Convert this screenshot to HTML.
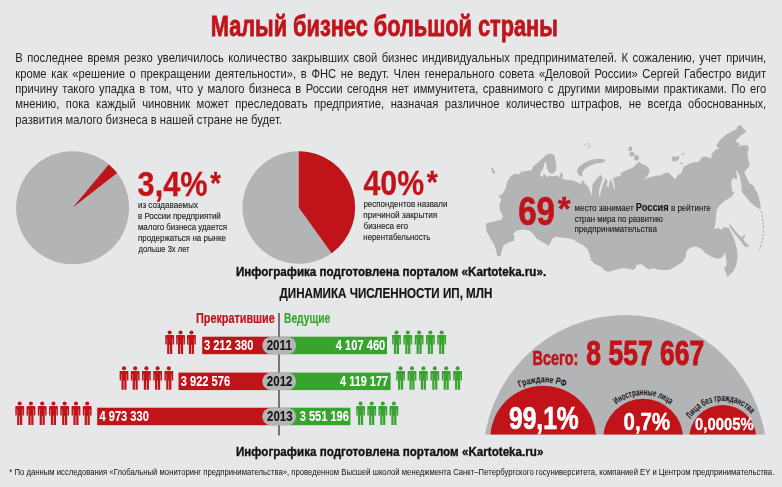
<!DOCTYPE html><html lang="ru"><head><meta charset="utf-8"><title>Малый бизнес большой страны</title>
<style>html,body{margin:0;padding:0}body{width:782px;height:487px;overflow:hidden;background:#e6e7e8;position:relative;font-family:"Liberation Sans",sans-serif}.w{position:absolute;left:0;top:0;width:782px;height:487px;overflow:hidden;will-change:transform}.t{position:absolute;left:0;white-space:nowrap;transform-origin:0 0;line-height:1}.pl{position:absolute;left:0;white-space:nowrap;transform-origin:0 0;line-height:1;font-size:54.4px;color:#1f1f1e;text-align:justify;text-align-last:justify;transform:translate(15.30px,0) scale(0.20600,0.25000);width:3645.15px}svg{position:absolute;left:0;top:0}</style></head><body>
<svg width="782" height="487" viewBox="0 0 782 487">
<g fill="#b3b4b6">
<path d="M506.9,182 L510.7,176.2 L514.5,173.7 L519.6,174.3 L520.9,171.7 L526,171.1 L531.2,170.5 L533.1,166.6 L537.5,162.8 L542.7,158.3 L545.9,155.1 L549.7,153.6 L554.2,155.1 L555.4,160.2 L556.5,166.6 L555.4,171.1 L552.9,173.7 L549.3,173 L547.3,169 L546,162.6 L544.8,161.8 L543.3,168.5 L540.7,172 L540,175.8 L542.5,177.1 L543.9,173.7 L545.9,174.9 L546.5,177.5 L549.1,175.6 L552.9,176.2 L556.7,175.6 L559.3,177.5 L561.2,171.7 L563.1,175.6 L561.8,178.8 L567,180 L572.1,180.2 L577.7,182.4 L580.9,184.3 L582.8,179.2 L584.1,182.4 L587.9,186.3 L590.3,192 L591.2,196.5 L591.9,192 L592.4,185 L595.6,179.9 L600.7,174.8 L602.6,177.3 L602,181.2 L600,186.3 L598.8,192 L599.6,198 L600.7,192 L602.6,185 L604.5,180.5 L605.8,178 L607.7,181.2 L606.4,185 L608.4,187.5 L609.6,181.2 L610.9,179.2 L612.8,183.7 L614.1,190.1 L614.8,186.3 L612.8,178.6 L616,176.7 L620.5,176 L621.2,172.8 L626.3,170.3 L632.7,167.7 L636.5,163.9 L639.1,161.7 L641.6,163.9 L645.4,165.2 L648.6,167.7 L649.9,170.9 L648,174.8 L645.4,178 L643.5,180.5 L646.7,178 L651.8,176.7 L657,175.4 L661.5,175.2 L663.5,173.2 L668.6,172.6 L671.7,175.7 L675.6,179.6 L677.2,175.7 L681.8,172.6 L683.4,167.1 L688.9,164 L692.8,162.4 L699,161.7 L701.3,157.8 L705.2,156.2 L711.5,158.5 L711.5,153.9 L715.4,150 L719.3,148.4 L716.2,146.1 L720.1,139.8 L725.5,135.1 L733.3,130.5 L736.4,129.7 L737.2,126.6 L741.1,125 L742.7,128.1 L746.6,131.2 L742.7,134.4 L739.6,135.9 L738.8,138.3 L736.4,139 L736.4,142.2 L740.3,143.7 L738,146.8 L742.7,145.3 L747.4,145.3 L748.9,148.4 L747.4,152.3 L748.1,158.5 L749.7,165.6 L746.6,169.5 L744.2,172.6 L746.6,177.3 L747.4,179.6 L749.7,183.5 L753.6,185.8 L755.2,189.7 L757.5,192.9 L759.1,198.3 L760.6,205.4 L760.6,209.5 L755.5,206.4 L750.3,202.3 L745.2,196.2 L741.9,192.1 L741.1,182.7 L739.6,175.7 L737.2,171 L735.7,170.2 L737.2,176.5 L736.4,179.6 L733.3,178 L731,181.9 L731.8,187.4 L732.5,192.1 L734.9,191.3 L731.8,196.8 L725.7,200.3 L719.5,205.4 L716.5,210.5 L715.9,218.7 L715,225.9 L713.8,229 L718.5,228 L721.6,230 L723.7,227 L728.8,228 L731.9,234.1 L734.9,241.3 L737,249.5 L737.6,257.8 L736,266 L732.9,272.1 L729.8,274.2 L727.8,277.3 L725.7,272.1 L724.1,269.1 L726.7,264.9 L726.1,257.8 L725.3,252.6 L721.6,257.8 L717.5,258.8 L711.3,256.7 L706.2,253.7 L701.1,248.5 L695.9,246.5 L690.8,247.5 L686.7,250.6 L685.7,256.7 L682.6,261.9 L676.4,266 L669.2,270.1 L659.8,269.9 L653.1,268.2 L648.9,269.4 L645.6,267.4 L641.5,264.1 L636.5,264.9 L635.6,268.2 L633.2,269.9 L628.2,268.5 L621.5,268.2 L614.9,269.9 L608.2,271.9 L604.1,269.9 L600.7,266.6 L594.9,264.1 L590.8,259.9 L590,255.4 L587.8,249.6 L583.5,245.3 L577.8,242.4 L573.5,239.6 L566.3,238.1 L560.5,237.4 L554.8,236.7 L551.9,239.6 L550.5,243.2 L548.3,246 L544.7,243.2 L540.4,241 L536.1,238.1 L533.2,233.8 L528.9,230.2 L523.1,229.5 L517.4,230.2 L513.1,233.8 L514.5,236.7 L513.8,241 L508.8,242.4 L503.7,245.3 L501.6,251.1 L500.8,256.1 L497.3,256.1 L495.8,249.6 L494.4,245.3 L490.1,238.1 L486.5,230.9 L485.8,223.8 L490.1,222.3 L495.8,220.9 L501.6,219.4 L503,216.6 L500.1,210.8 L499.4,205.1 L501.3,199.6 L498.5,196 L502.4,194.1 L505.6,188.4Z M576.8,170.9 L578.8,166.9 L584,162.9 L589.2,160.4 L595.6,158.9 L603.2,158.9 L605.4,160.7 L603.2,162.6 L595.8,163.5 L589.6,165.8 L584.8,169 L582.2,172.6 L582,176.4 L579,175.2Z M728.6,223 L731.7,226.2 L736.6,232.4 L741.6,237.6 L744.6,234.8 L745.6,235.6 L743.2,239.6 L746.2,243.6 L749.3,245.4 L748.9,246.5 L746.6,246.2 L746.4,248.3 L743,244.4 L739.3,239.5 L734.3,233.3 L730.2,228Z"/>
<path d="M490.9,168.2 L492.6,167.9 L495.3,172.3 L494.6,173.7 L492.8,173.2Z"/>
<ellipse cx="630.4" cy="148.9" rx="2" ry="2.4"/><ellipse cx="632" cy="154.2" rx="2.6" ry="2.3"/><ellipse cx="636.5" cy="157.8" rx="2.5" ry="2.8"/>
<path d="M671.7,158 L674,155.8 L676,157.6 L678.5,155.5 L679.5,158 L677.5,160.5 L674.5,161.7 L672.2,160.5Z"/><path d="M681,154 L684.8,152.7 L685,153.8 L681.6,155Z"/><path d="M680.3,162.6 L682.4,162.2 L682.8,163.8 L680.8,164.2Z"/>
<g opacity="0.45"><circle cx="585" cy="145" r="1.3"/><circle cx="588.5" cy="144" r="1.4"/><circle cx="588" cy="147.5" r="1.2"/><circle cx="590.3" cy="146" r="1"/></g>
<path d="M761.4,211 Q764.5,228 762.8,238 Q761.6,245 759.4,250" fill="none" stroke="#b3b4b6" stroke-width="1.3" stroke-dasharray="2.2 1.6"/>
</g>
<circle cx="72.6" cy="207.8" r="56.5" fill="#b3b4b6"/><path d="M72.6,207.8 L108.77,164.39 A56.5,56.5 0 0 1 117.12,173.02 Z" fill="#c0141a"/>
<circle cx="298.8" cy="207.5" r="56.3" fill="#b3b4b6"/><path d="M298.8,207.5 L298.80,151.20 A56.3,56.3 0 0 1 331.65,253.22 Z" fill="#c0141a"/>
<rect x="278.25" y="313" width="1.5" height="122.5" fill="#505050"/>
<rect x="202.2" y="336.7" width="76.7" height="17.5" fill="#c0141a"/>
<rect x="278.9" y="336.7" width="108.1" height="17.5" fill="#38a42f"/>
<rect x="262.3" y="336.7" width="33.8" height="17.5" rx="8.75" fill="#b5b5b7"/>
<rect x="178.5" y="372.6" width="100.4" height="17.5" fill="#c0141a"/>
<rect x="278.9" y="372.6" width="111.7" height="17.5" fill="#38a42f"/>
<rect x="262.3" y="372.6" width="33.8" height="17.5" rx="8.75" fill="#b5b5b7"/>
<rect x="97.2" y="407.7" width="181.7" height="17.5" fill="#c0141a"/>
<rect x="278.9" y="407.7" width="71.5" height="17.5" fill="#38a42f"/>
<rect x="262.3" y="407.7" width="33.8" height="17.5" rx="8.75" fill="#b5b5b7"/>
<g transform="translate(165.30,330.40)" fill="#c0141a"><circle cx="4.4" cy="2.05" r="2.05"/><path d="M0.7,4.7h7.4q0.7,0 0.7,0.7v8.8h-1.5v-6.3h-0.35v15.6h-2.25v-9.2h-0.6v9.2h-2.25v-15.6h-0.35v6.3h-1.5v-8.8q0,-0.7 0.7,-0.7z"/></g>
<g transform="translate(176.15,330.40)" fill="#c0141a"><circle cx="4.4" cy="2.05" r="2.05"/><path d="M0.7,4.7h7.4q0.7,0 0.7,0.7v8.8h-1.5v-6.3h-0.35v15.6h-2.25v-9.2h-0.6v9.2h-2.25v-15.6h-0.35v6.3h-1.5v-8.8q0,-0.7 0.7,-0.7z"/></g>
<g transform="translate(187.00,330.40)" fill="#c0141a"><circle cx="4.4" cy="2.05" r="2.05"/><path d="M0.7,4.7h7.4q0.7,0 0.7,0.7v8.8h-1.5v-6.3h-0.35v15.6h-2.25v-9.2h-0.6v9.2h-2.25v-15.6h-0.35v6.3h-1.5v-8.8q0,-0.7 0.7,-0.7z"/></g>
<g transform="translate(392.10,330.40)" fill="#38a42f"><circle cx="4.4" cy="2.05" r="2.05"/><path d="M0.7,4.7h7.4q0.7,0 0.7,0.7v8.8h-1.5v-6.3h-0.35v15.6h-2.25v-9.2h-0.6v9.2h-2.25v-15.6h-0.35v6.3h-1.5v-8.8q0,-0.7 0.7,-0.7z"/></g>
<g transform="translate(403.40,330.40)" fill="#38a42f"><circle cx="4.4" cy="2.05" r="2.05"/><path d="M0.7,4.7h7.4q0.7,0 0.7,0.7v8.8h-1.5v-6.3h-0.35v15.6h-2.25v-9.2h-0.6v9.2h-2.25v-15.6h-0.35v6.3h-1.5v-8.8q0,-0.7 0.7,-0.7z"/></g>
<g transform="translate(414.70,330.40)" fill="#38a42f"><circle cx="4.4" cy="2.05" r="2.05"/><path d="M0.7,4.7h7.4q0.7,0 0.7,0.7v8.8h-1.5v-6.3h-0.35v15.6h-2.25v-9.2h-0.6v9.2h-2.25v-15.6h-0.35v6.3h-1.5v-8.8q0,-0.7 0.7,-0.7z"/></g>
<g transform="translate(426.00,330.40)" fill="#38a42f"><circle cx="4.4" cy="2.05" r="2.05"/><path d="M0.7,4.7h7.4q0.7,0 0.7,0.7v8.8h-1.5v-6.3h-0.35v15.6h-2.25v-9.2h-0.6v9.2h-2.25v-15.6h-0.35v6.3h-1.5v-8.8q0,-0.7 0.7,-0.7z"/></g>
<g transform="translate(437.30,330.40)" fill="#38a42f"><circle cx="4.4" cy="2.05" r="2.05"/><path d="M0.7,4.7h7.4q0.7,0 0.7,0.7v8.8h-1.5v-6.3h-0.35v15.6h-2.25v-9.2h-0.6v9.2h-2.25v-15.6h-0.35v6.3h-1.5v-8.8q0,-0.7 0.7,-0.7z"/></g>
<g transform="translate(119.60,366.30)" fill="#c0141a"><circle cx="4.4" cy="2.05" r="2.05"/><path d="M0.7,4.7h7.4q0.7,0 0.7,0.7v8.8h-1.5v-6.3h-0.35v15.6h-2.25v-9.2h-0.6v9.2h-2.25v-15.6h-0.35v6.3h-1.5v-8.8q0,-0.7 0.7,-0.7z"/></g>
<g transform="translate(130.80,366.30)" fill="#c0141a"><circle cx="4.4" cy="2.05" r="2.05"/><path d="M0.7,4.7h7.4q0.7,0 0.7,0.7v8.8h-1.5v-6.3h-0.35v15.6h-2.25v-9.2h-0.6v9.2h-2.25v-15.6h-0.35v6.3h-1.5v-8.8q0,-0.7 0.7,-0.7z"/></g>
<g transform="translate(142.00,366.30)" fill="#c0141a"><circle cx="4.4" cy="2.05" r="2.05"/><path d="M0.7,4.7h7.4q0.7,0 0.7,0.7v8.8h-1.5v-6.3h-0.35v15.6h-2.25v-9.2h-0.6v9.2h-2.25v-15.6h-0.35v6.3h-1.5v-8.8q0,-0.7 0.7,-0.7z"/></g>
<g transform="translate(153.20,366.30)" fill="#c0141a"><circle cx="4.4" cy="2.05" r="2.05"/><path d="M0.7,4.7h7.4q0.7,0 0.7,0.7v8.8h-1.5v-6.3h-0.35v15.6h-2.25v-9.2h-0.6v9.2h-2.25v-15.6h-0.35v6.3h-1.5v-8.8q0,-0.7 0.7,-0.7z"/></g>
<g transform="translate(164.40,366.30)" fill="#c0141a"><circle cx="4.4" cy="2.05" r="2.05"/><path d="M0.7,4.7h7.4q0.7,0 0.7,0.7v8.8h-1.5v-6.3h-0.35v15.6h-2.25v-9.2h-0.6v9.2h-2.25v-15.6h-0.35v6.3h-1.5v-8.8q0,-0.7 0.7,-0.7z"/></g>
<g transform="translate(396.20,366.30)" fill="#38a42f"><circle cx="4.4" cy="2.05" r="2.05"/><path d="M0.7,4.7h7.4q0.7,0 0.7,0.7v8.8h-1.5v-6.3h-0.35v15.6h-2.25v-9.2h-0.6v9.2h-2.25v-15.6h-0.35v6.3h-1.5v-8.8q0,-0.7 0.7,-0.7z"/></g>
<g transform="translate(407.60,366.30)" fill="#38a42f"><circle cx="4.4" cy="2.05" r="2.05"/><path d="M0.7,4.7h7.4q0.7,0 0.7,0.7v8.8h-1.5v-6.3h-0.35v15.6h-2.25v-9.2h-0.6v9.2h-2.25v-15.6h-0.35v6.3h-1.5v-8.8q0,-0.7 0.7,-0.7z"/></g>
<g transform="translate(419.00,366.30)" fill="#38a42f"><circle cx="4.4" cy="2.05" r="2.05"/><path d="M0.7,4.7h7.4q0.7,0 0.7,0.7v8.8h-1.5v-6.3h-0.35v15.6h-2.25v-9.2h-0.6v9.2h-2.25v-15.6h-0.35v6.3h-1.5v-8.8q0,-0.7 0.7,-0.7z"/></g>
<g transform="translate(430.40,366.30)" fill="#38a42f"><circle cx="4.4" cy="2.05" r="2.05"/><path d="M0.7,4.7h7.4q0.7,0 0.7,0.7v8.8h-1.5v-6.3h-0.35v15.6h-2.25v-9.2h-0.6v9.2h-2.25v-15.6h-0.35v6.3h-1.5v-8.8q0,-0.7 0.7,-0.7z"/></g>
<g transform="translate(441.80,366.30)" fill="#38a42f"><circle cx="4.4" cy="2.05" r="2.05"/><path d="M0.7,4.7h7.4q0.7,0 0.7,0.7v8.8h-1.5v-6.3h-0.35v15.6h-2.25v-9.2h-0.6v9.2h-2.25v-15.6h-0.35v6.3h-1.5v-8.8q0,-0.7 0.7,-0.7z"/></g>
<g transform="translate(453.20,366.30)" fill="#38a42f"><circle cx="4.4" cy="2.05" r="2.05"/><path d="M0.7,4.7h7.4q0.7,0 0.7,0.7v8.8h-1.5v-6.3h-0.35v15.6h-2.25v-9.2h-0.6v9.2h-2.25v-15.6h-0.35v6.3h-1.5v-8.8q0,-0.7 0.7,-0.7z"/></g>
<g transform="translate(15.30,401.40)" fill="#c0141a"><circle cx="4.4" cy="2.05" r="2.05"/><path d="M0.7,4.7h7.4q0.7,0 0.7,0.7v8.8h-1.5v-6.3h-0.35v15.6h-2.25v-9.2h-0.6v9.2h-2.25v-15.6h-0.35v6.3h-1.5v-8.8q0,-0.7 0.7,-0.7z"/></g>
<g transform="translate(26.55,401.40)" fill="#c0141a"><circle cx="4.4" cy="2.05" r="2.05"/><path d="M0.7,4.7h7.4q0.7,0 0.7,0.7v8.8h-1.5v-6.3h-0.35v15.6h-2.25v-9.2h-0.6v9.2h-2.25v-15.6h-0.35v6.3h-1.5v-8.8q0,-0.7 0.7,-0.7z"/></g>
<g transform="translate(37.80,401.40)" fill="#c0141a"><circle cx="4.4" cy="2.05" r="2.05"/><path d="M0.7,4.7h7.4q0.7,0 0.7,0.7v8.8h-1.5v-6.3h-0.35v15.6h-2.25v-9.2h-0.6v9.2h-2.25v-15.6h-0.35v6.3h-1.5v-8.8q0,-0.7 0.7,-0.7z"/></g>
<g transform="translate(49.05,401.40)" fill="#c0141a"><circle cx="4.4" cy="2.05" r="2.05"/><path d="M0.7,4.7h7.4q0.7,0 0.7,0.7v8.8h-1.5v-6.3h-0.35v15.6h-2.25v-9.2h-0.6v9.2h-2.25v-15.6h-0.35v6.3h-1.5v-8.8q0,-0.7 0.7,-0.7z"/></g>
<g transform="translate(60.30,401.40)" fill="#c0141a"><circle cx="4.4" cy="2.05" r="2.05"/><path d="M0.7,4.7h7.4q0.7,0 0.7,0.7v8.8h-1.5v-6.3h-0.35v15.6h-2.25v-9.2h-0.6v9.2h-2.25v-15.6h-0.35v6.3h-1.5v-8.8q0,-0.7 0.7,-0.7z"/></g>
<g transform="translate(71.55,401.40)" fill="#c0141a"><circle cx="4.4" cy="2.05" r="2.05"/><path d="M0.7,4.7h7.4q0.7,0 0.7,0.7v8.8h-1.5v-6.3h-0.35v15.6h-2.25v-9.2h-0.6v9.2h-2.25v-15.6h-0.35v6.3h-1.5v-8.8q0,-0.7 0.7,-0.7z"/></g>
<g transform="translate(82.80,401.40)" fill="#c0141a"><circle cx="4.4" cy="2.05" r="2.05"/><path d="M0.7,4.7h7.4q0.7,0 0.7,0.7v8.8h-1.5v-6.3h-0.35v15.6h-2.25v-9.2h-0.6v9.2h-2.25v-15.6h-0.35v6.3h-1.5v-8.8q0,-0.7 0.7,-0.7z"/></g>
<g transform="translate(356.20,401.40)" fill="#38a42f"><circle cx="4.4" cy="2.05" r="2.05"/><path d="M0.7,4.7h7.4q0.7,0 0.7,0.7v8.8h-1.5v-6.3h-0.35v15.6h-2.25v-9.2h-0.6v9.2h-2.25v-15.6h-0.35v6.3h-1.5v-8.8q0,-0.7 0.7,-0.7z"/></g>
<g transform="translate(367.30,401.40)" fill="#38a42f"><circle cx="4.4" cy="2.05" r="2.05"/><path d="M0.7,4.7h7.4q0.7,0 0.7,0.7v8.8h-1.5v-6.3h-0.35v15.6h-2.25v-9.2h-0.6v9.2h-2.25v-15.6h-0.35v6.3h-1.5v-8.8q0,-0.7 0.7,-0.7z"/></g>
<g transform="translate(378.40,401.40)" fill="#38a42f"><circle cx="4.4" cy="2.05" r="2.05"/><path d="M0.7,4.7h7.4q0.7,0 0.7,0.7v8.8h-1.5v-6.3h-0.35v15.6h-2.25v-9.2h-0.6v9.2h-2.25v-15.6h-0.35v6.3h-1.5v-8.8q0,-0.7 0.7,-0.7z"/></g>
<g transform="translate(389.50,401.40)" fill="#38a42f"><circle cx="4.4" cy="2.05" r="2.05"/><path d="M0.7,4.7h7.4q0.7,0 0.7,0.7v8.8h-1.5v-6.3h-0.35v15.6h-2.25v-9.2h-0.6v9.2h-2.25v-15.6h-0.35v6.3h-1.5v-8.8q0,-0.7 0.7,-0.7z"/></g>
<defs><clipPath id="cb"><rect x="0" y="0" width="782" height="434.4"/></clipPath>
<path id="a1" d="M519.66,387.51 A56.3,56.3 0 0 1 599.40,438.70"/>
<path id="a2" d="M616.18,404.63 A43.4,43.4 0 0 1 686.60,438.60"/>
<path id="a3" d="M690.59,419.02 A37.6,37.6 0 0 1 760.35,438.50"/>
</defs>
<g clip-path="url(#cb)">
<ellipse cx="625" cy="459" rx="142.1" ry="144" fill="#b3b4b6"/>
<circle cx="543.1" cy="438.7" r="52.9" fill="#c0141a"/>
<circle cx="643.2" cy="438.6" r="39.9" fill="#c0141a"/>
<circle cx="722.75" cy="438.5" r="33.6" fill="#c0141a"/>
</g>
<g font-family="Liberation Sans, sans-serif" font-size="9.6" font-weight="700" fill="#161616">
<text><textPath href="#a1" textLength="46.8" lengthAdjust="spacingAndGlyphs">Граждане РФ</textPath></text>
<text><textPath href="#a2" textLength="58.2" lengthAdjust="spacingAndGlyphs">Иностранные лица</textPath></text>
<text><textPath href="#a3" textLength="70.6" lengthAdjust="spacingAndGlyphs">Лица без гражданства</textPath></text>
</g>
</svg>
<div class="w">
<div class="pl" style="top:51px;">В последнее время резко увеличилось количество закрывших свой бизнес индивидуальных предпринимателей. К сожалению, учет причин,</div>
<div class="pl" style="top:67px;">кроме как «решение о прекращении деятельности», в ФНС не ведут. Член генерального совета «Деловой России» Сергей Габестро видит</div>
<div class="pl" style="top:82px;">причину такого упадка в том, что у малого бизнеса в России сегодня нет иммунитета, сравнимого с другими мировыми практиками. По его</div>
<div class="pl" style="top:97px;">мнению, пока каждый чиновник может преследовать предприятие, назначая различное количество штрафов, не всегда обоснованных,</div>
<div class="pl" style="top:113px;;text-align-last:left">развития малого бизнеса в нашей стране не будет.</div>
<div class="t" style="top:10px;font-size:120px;font-weight:700;color:#c0141a;transform:translate(210.84px,0) scale(0.18120,0.25000);-webkit-text-stroke:3.20px currentColor;">Малый бизнес большой страны</div>
<div class="t" style="top:166px;font-size:140.8px;font-weight:700;color:#c0141a;transform:translate(137.60px,0) scale(0.21788,0.25000);-webkit-text-stroke:1.20px currentColor;">3,4%</div>
<div class="t" style="top:168px;font-size:124px;font-weight:700;color:#c0141a;transform:translate(210.14px,0) scale(0.21945,0.25000);-webkit-text-stroke:1.44px currentColor;">*</div>
<div class="t" style="top:200px;font-size:37.2px;font-weight:400;color:#1c1c1b;transform:translate(137.90px,0) scale(0.21621,0.26250);-webkit-text-stroke:0.48px currentColor;">из создаваемых</div>
<div class="t" style="top:211px;font-size:37.2px;font-weight:400;color:#1c1c1b;transform:translate(137.91px,0) scale(0.21499,0.26250);-webkit-text-stroke:0.48px currentColor;">в России предприятий</div>
<div class="t" style="top:222px;font-size:37.2px;font-weight:400;color:#1c1c1b;transform:translate(137.91px,0) scale(0.21345,0.26250);-webkit-text-stroke:0.48px currentColor;">малого бизнеса удается</div>
<div class="t" style="top:233px;font-size:37.2px;font-weight:400;color:#1c1c1b;transform:translate(137.91px,0) scale(0.21452,0.26250);-webkit-text-stroke:0.48px currentColor;">продержаться на рынке</div>
<div class="t" style="top:244px;font-size:37.2px;font-weight:400;color:#1c1c1b;transform:translate(138.47px,0) scale(0.20340,0.26250);-webkit-text-stroke:0.48px currentColor;">дольше 3х лет</div>
<div class="t" style="top:165px;font-size:140.8px;font-weight:700;color:#c0141a;transform:translate(363.47px,0) scale(0.21517,0.25000);-webkit-text-stroke:1.20px currentColor;">40%</div>
<div class="t" style="top:167px;font-size:124px;font-weight:700;color:#c0141a;transform:translate(426.74px,0) scale(0.22773,0.25000);-webkit-text-stroke:1.44px currentColor;">*</div>
<div class="t" style="top:199px;font-size:37.2px;font-weight:400;color:#1c1c1b;transform:translate(363.43px,0) scale(0.21419,0.26250);-webkit-text-stroke:0.48px currentColor;">респондентов назвали</div>
<div class="t" style="top:210px;font-size:37.2px;font-weight:400;color:#1c1c1b;transform:translate(363.29px,0) scale(0.22177,0.26250);-webkit-text-stroke:0.48px currentColor;">причиной закрытия</div>
<div class="t" style="top:221px;font-size:37.2px;font-weight:400;color:#1c1c1b;transform:translate(363.47px,0) scale(0.21856,0.26250);-webkit-text-stroke:0.48px currentColor;">бизнеса его</div>
<div class="t" style="top:232px;font-size:37.2px;font-weight:400;color:#1c1c1b;transform:translate(363.32px,0) scale(0.21051,0.26250);-webkit-text-stroke:0.48px currentColor;">нерентабельность</div>
<div class="t" style="top:190px;font-size:164px;font-weight:700;color:#c0141a;transform:translate(518.17px,0) scale(0.20197,0.25000);-webkit-text-stroke:2.80px currentColor;">69</div>
<div class="t" style="top:192px;font-size:134px;font-weight:700;color:#c0141a;transform:translate(557.63px,0) scale(0.24677,0.25000);-webkit-text-stroke:1.44px currentColor;">*</div>
<div class="t" style="top:203px;font-size:37.2px;font-weight:400;color:#1c1c1b;transform:translate(574.40px,0) scale(0.21597,0.26250);-webkit-text-stroke:0.48px currentColor;">место занимает <b style="font-size:42.8px;color:#161616;line-height:0">Россия</b> в рейтинге</div>
<div class="t" style="top:214px;font-size:37.2px;font-weight:400;color:#1c1c1b;transform:translate(574.63px,0) scale(0.20933,0.26250);-webkit-text-stroke:0.48px currentColor;">стран мира по развитию</div>
<div class="t" style="top:224px;font-size:37.2px;font-weight:400;color:#1c1c1b;transform:translate(574.41px,0) scale(0.21525,0.26250);-webkit-text-stroke:0.48px currentColor;">предпринимательства</div>
<div class="t" style="top:266px;font-size:47.6px;font-weight:700;color:#111;transform:translate(235.88px,0) scale(0.24407,0.25000);-webkit-text-stroke:1.28px currentColor;">Инфографика подготовлена порталом «Kartoteka.ru».</div>
<div class="t" style="top:285px;font-size:59.2px;font-weight:700;color:#161616;transform:translate(279.48px,0) scale(0.19652,0.25000);-webkit-text-stroke:0.80px currentColor;">ДИНАМИКА ЧИСЛЕННОСТИ ИП, МЛН</div>
<div class="t" style="top:446px;font-size:47.6px;font-weight:700;color:#111;transform:translate(235.88px,0) scale(0.24443,0.25000);-webkit-text-stroke:1.28px currentColor;">Инфографика подготовлена порталом «Kartoteka.ru»</div>
<div class="t" style="top:468px;font-size:31.6px;font-weight:400;color:#111;transform:translate(9.36px,0) scale(0.24404,0.28000);">* По данным исследования «Глобальный мониторинг предпринимательства», проведенном Высшей школой менеджмента Санкт–Петербургского госуниверситета, компанией EY и Центром предпринимательства.</div>
<div class="t" style="top:311px;font-size:56px;font-weight:700;color:#c0141a;transform:translate(196.00px,0) scale(0.19338,0.25000);-webkit-text-stroke:0.80px currentColor;">Прекратившие</div>
<div class="t" style="top:311px;font-size:56px;font-weight:700;color:#38a42f;transform:translate(283.94px,0) scale(0.18405,0.25000);-webkit-text-stroke:0.80px currentColor;">Ведущие</div>
<div class="t" style="top:337px;font-size:60px;font-weight:700;color:#161616;transform:translate(266.65px,0) scale(0.19383,0.25000);-webkit-text-stroke:0.56px currentColor;">2011</div>
<div class="t" style="top:373px;font-size:60px;font-weight:700;color:#161616;transform:translate(266.85px,0) scale(0.19156,0.25000);-webkit-text-stroke:0.56px currentColor;">2012</div>
<div class="t" style="top:408px;font-size:60px;font-weight:700;color:#161616;transform:translate(267.05px,0) scale(0.19078,0.25000);-webkit-text-stroke:0.56px currentColor;">2013</div>
<div class="t" style="top:337px;font-size:59.2px;font-weight:700;color:#fff;transform:translate(203.95px,0) scale(0.18743,0.25000);-webkit-text-stroke:0.40px currentColor;">3 212 380</div>
<div class="t" style="top:373px;font-size:59.2px;font-weight:700;color:#fff;transform:translate(180.75px,0) scale(0.18739,0.25000);-webkit-text-stroke:0.40px currentColor;">3 922 576</div>
<div class="t" style="top:408px;font-size:59.2px;font-weight:700;color:#fff;transform:translate(99.55px,0) scale(0.18705,0.25000);-webkit-text-stroke:0.40px currentColor;">4 973 330</div>
<div class="t" style="top:337px;font-size:59.2px;font-weight:700;color:#fff;transform:translate(335.85px,0) scale(0.18782,0.25000);-webkit-text-stroke:0.40px currentColor;">4 107 460</div>
<div class="t" style="top:373px;font-size:59.2px;font-weight:700;color:#fff;transform:translate(340.05px,0) scale(0.18486,0.25000);-webkit-text-stroke:0.40px currentColor;">4 119 177</div>
<div class="t" style="top:408px;font-size:59.2px;font-weight:700;color:#fff;transform:translate(299.75px,0) scale(0.18624,0.25000);-webkit-text-stroke:0.40px currentColor;">3 551 196</div>
<div class="t" style="top:347px;font-size:83.2px;font-weight:700;color:#c0141a;transform:translate(532.61px,0) scale(0.17279,0.25000);-webkit-text-stroke:2.80px currentColor;">Всего:</div>
<div class="t" style="top:336px;font-size:138.4px;font-weight:700;color:#c0141a;transform:translate(586.33px,0) scale(0.19173,0.25000);-webkit-text-stroke:4.00px currentColor;">8 557 667</div>
<div class="t" style="top:403px;font-size:122.4px;font-weight:700;color:#fff;transform:translate(508.99px,0) scale(0.20084,0.25000);-webkit-text-stroke:2.56px currentColor;">99,1%</div>
<div class="t" style="top:410px;font-size:93.2px;font-weight:700;color:#fff;transform:translate(623.54px,0) scale(0.21889,0.25000);-webkit-text-stroke:2.00px currentColor;">0,7%</div>
<div class="t" style="top:415px;font-size:68px;font-weight:700;color:#fff;transform:translate(695.08px,0) scale(0.21863,0.25000);-webkit-text-stroke:1.20px currentColor;">0,0005%</div>
</div>
</body></html>
